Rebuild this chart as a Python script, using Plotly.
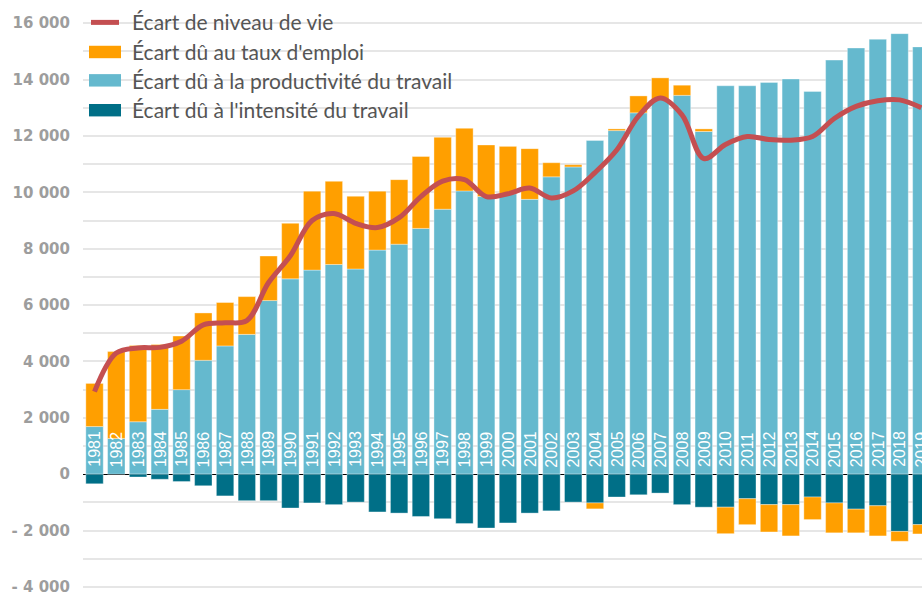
import plotly.graph_objects as go

# ---------------- data ----------------
years = list(range(1981, 2020))

niveau_vie = [2930, 4300, 4480, 4500, 4720, 5300, 5370, 5450, 6800, 7750,
              9000, 9250, 8900, 8750, 9100, 9850, 10400, 10450, 9850, 9950,
              10150, 9800, 10050, 10700, 11500, 12700, 13350, 12750, 11200, 11700,
              11980, 11870, 11850, 11980, 12620, 13050, 13250, 13280, 13000]

taux_emploi = [1530, 3080, 2710, 2300, 1900, 1680, 1540, 1340, 1580, 1970,
               2800, 2950, 2580, 2090, 2290, 2550, 2550, 2220, 1830, 1680,
               1800, 500, 80, -210, 60, 600, 760, 360, 90, -940,
               -920, -970, -1110, -800, -1060, -840, -1070, -350, -330]

productivite = [1690, 1270, 1860, 2300, 3000, 4040, 4550, 4960, 6160, 6930,
                7240, 7440, 7280, 7950, 8160, 8720, 9400, 10050, 9850, 9950,
                9750, 10550, 10900, 11840, 12190, 12820, 13300, 13440, 12160, 13780,
                13780, 13900, 14020, 13580, 14690, 15120, 15430, 15630, 15160]

intensite = [-340, 0, -100, -180, -260, -410, -770, -940, -940, -1200,
             -1020, -1080, -990, -1340, -1380, -1500, -1580, -1750, -1910, -1730,
             -1380, -1300, -990, -1020, -810, -730, -670, -1080, -1170, -1170,
             -870, -1080, -1080, -810, -1020, -1240, -1120, -2030, -1790]

y_tick_values = [-4000, -3000, -2000, -1000, 0, 1000, 2000, 3000, 4000, 5000, 6000,
                 7000, 8000, 9000, 10000, 11000, 12000, 13000, 14000, 15000, 16000]
y_tick_labels = ["- 4 000", "", "- 2 000", "", "0", "", "2 000", "", "4 000", "", "6 000",
                 "", "8 000", "", "10 000", "", "12 000", "", "14 000", "", "16 000"]

legend_labels = ["Écart de niveau de vie",
                 "Écart dû au taux d'emploi",
                 "Écart dû à la productivité du travail",
                 "Écart dû à l'intensité du travail"]

# ---------------- style ----------------
C_LINE = "#c44f51"
C_ORANGE = "#ff9f00"
C_BLUE = "#65b9ce"
C_DARK = "#006f87"
W, H = 922, 596
ML = 83

fig = go.Figure()

bar_line = dict(color="rgba(255,255,255,0.35)", width=1)
fig.add_trace(go.Bar(x=years, y=productivite, marker=dict(color=C_BLUE, line=bar_line),
                     name=legend_labels[2], showlegend=False))
fig.add_trace(go.Bar(x=years, y=intensite, marker=dict(color=C_DARK, line=bar_line),
                     name=legend_labels[3], showlegend=False))
fig.add_trace(go.Bar(x=years, y=taux_emploi, marker=dict(color=C_ORANGE, line=bar_line),
                     name=legend_labels[1], showlegend=False))
fig.add_trace(go.Scatter(x=years, y=niveau_vie, mode="lines",
                         line=dict(color=C_LINE, width=5, shape="spline", smoothing=1),
                         name=legend_labels[0], showlegend=False))

# year labels inside bars
for yr in years:
    fig.add_annotation(x=yr, y=0, text=str(yr), textangle=-90, showarrow=False,
                       xanchor="center", yanchor="bottom", yshift=5,
                       font=dict(family="Liberation Sans, Arial", size=16, color="white"))

# manual legend (white box covering gridlines)
def px_x(p):
    return (p - ML) / (W - ML)

def px_y(p):
    return 1 - p / H

fig.add_shape(type="rect", xref="paper", yref="paper", layer="between",
              x0=px_x(ML), x1=px_x(471), y0=px_y(0), y1=px_y(124),
              fillcolor="white", line=dict(width=0))

fig.add_shape(type="line", xref="paper", yref="paper", layer="above",
              x0=px_x(91), x1=px_x(119), y0=px_y(22.5), y1=px_y(22.5),
              line=dict(color=C_LINE, width=5))
swatch_cols = [C_ORANGE, C_BLUE, C_DARK]
swatch_y = [(46, 58.5), (74.5, 87), (104.5, 117)]
for col, (a, b) in zip(swatch_cols, swatch_y):
    fig.add_shape(type="rect", xref="paper", yref="paper", layer="above",
                  x0=px_x(89), x1=px_x(121), y0=px_y(b), y1=px_y(a),
                  fillcolor=col, line=dict(width=0))
text_y = [22, 52, 81, 110]
for lab, ty in zip(legend_labels, text_y):
    fig.add_annotation(xref="paper", yref="paper", x=px_x(130), y=px_y(ty),
                       text=lab, showarrow=False, xanchor="left", yanchor="middle",
                       font=dict(family="Lato", size=21, color="#555555"))

fig.update_layout(
    width=W, height=H,
    margin=dict(l=ML, r=0, t=0, b=0),
    paper_bgcolor="white", plot_bgcolor="white",
    barmode="relative", bargap=0.2,
    showlegend=False,
    xaxis=dict(range=[1980.47, 2019.03], showticklabels=False, showgrid=False,
               zeroline=False, ticks=""),
    yaxis=dict(range=[-4215, 16823], tickvals=y_tick_values, ticktext=y_tick_labels,
               showgrid=True, gridcolor="#e6e6e6", gridwidth=1.5,
               zeroline=True, zerolinecolor="#000000", zerolinewidth=1,
               ticks="", ticklabelstandoff=12, ticklabeloverflow="allow",
               tickfont=dict(family="DejaVu Sans", size=15, color="#9d9d9d", weight="bold")),
)

fig.write_html("out.html", config={"displayModeBar": False},
               post_script="document.body.style.margin='0';document.body.style.overflow='hidden';")
